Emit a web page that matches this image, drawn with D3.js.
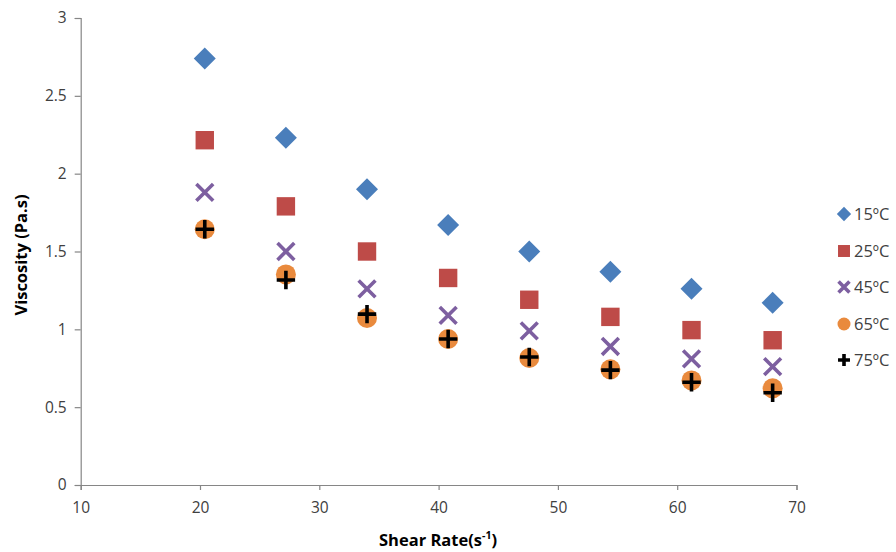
<!DOCTYPE html>
<html>
<head>
<meta charset="utf-8">
<script src="https://cdn.jsdelivr.net/npm/d3@7"></script>
<style>
  html, body { margin: 0; padding: 0; background: #fff; }
  svg { display: block; font-family: "Open Sans", "Noto Sans", sans-serif; }
</style>
</head>
<body>
<svg id="chart" width="896" height="552"></svg>
<script>
const shearRate = [20.4, 27.2, 34, 40.8, 47.6, 54.4, 61.2, 68];
const seriesNames = ["15ºC", "25ºC", "45ºC", "65ºC", "75ºC"];
const v15 = [2.74, 2.23, 1.90, 1.67, 1.50, 1.37, 1.26, 1.17];
const v25 = [2.215, 1.79, 1.50, 1.33, 1.19, 1.08, 0.995, 0.93];
const v45 = [1.88, 1.50, 1.26, 1.09, 0.99, 0.89, 0.81, 0.76];
const v65 = [1.643, 1.353, 1.073, 0.938, 0.816, 0.743, 0.672, 0.621];
const v75 = [1.643, 1.317, 1.098, 0.938, 0.822, 0.738, 0.660, 0.593];
const xTicks = [10, 20, 30, 40, 50, 60, 70];
const yTicks = [0, 0.5, 1, 1.5, 2, 2.5, 3];
const colors = ["#4A7EBB", "#BE4B48", "#7D5FA0", "#E98A3D", "#000000"];

const allSeries = [v15, v25, v45, v65, v75];

const svg = d3.select("#chart");
const x = d3.scaleLinear().domain([10, 70]).range([80.7, 796.5]);
const y = d3.scaleLinear().domain([0, 3]).range([485, 18]);
const axisColor = "#868686";

// Y axis
const yAxis = svg.append("g").attr("transform", `translate(${x(10)},0)`)
  .call(d3.axisLeft(y).tickValues(yTicks).tickSize(6).tickPadding(8).tickFormat(d3.format("")));
// X axis
const xAxis = svg.append("g").attr("transform", `translate(0,${y(0)})`)
  .call(d3.axisBottom(x).tickValues(xTicks).tickSize(5).tickPadding(8).tickFormat(d3.format("")));
[yAxis, xAxis].forEach(g => {
  g.select(".domain").attr("stroke", axisColor).attr("stroke-width", 1.2);
  g.selectAll(".tick line").attr("stroke", axisColor).attr("stroke-width", 1.2);
  g.selectAll(".tick text").attr("fill", "#404040").attr("font-size", 15.5)
    .attr("font-family", "'Open Sans', sans-serif");
});
xAxis.selectAll(".tick text").attr("dy", "0.95em");

// Axis titles
svg.append("text")
  .attr("transform", `translate(27,255) rotate(-90)`)
  .attr("text-anchor", "middle")
  .attr("font-size", 16.5).attr("font-weight", "bold").attr("fill", "#000")
  .text("Viscosity (Pa.s)");

const xt = svg.append("text")
  .attr("x", 438).attr("y", 546)
  .attr("text-anchor", "middle")
  .attr("font-size", 16.5).attr("font-weight", "bold").attr("fill", "#000");
xt.append("tspan").text("Shear Rate(s");
xt.append("tspan").attr("dy", -7).attr("font-size", 10.5).text("-1");
xt.append("tspan").attr("dy", 7).text(")");

// Marker drawing
function drawMarker(g, type, color, size) {
  const s = size;
  if (type === 0) {
    g.append("path").attr("d", `M0,${-s*0.55}L${s*0.55},0L0,${s*0.55}L${-s*0.55},0Z`).attr("fill", color);
  } else if (type === 1) {
    g.append("rect").attr("x", -s*0.46).attr("y", -s*0.46).attr("width", s*0.92).attr("height", s*0.92).attr("fill", color);
  } else if (type === 2) {
    const a = s*0.42;
    g.append("path").attr("d", `M${-a},${-a}L${a},${a}M${-a},${a}L${a},${-a}`)
      .attr("stroke", color).attr("stroke-width", 3.6).attr("fill", "none");
  } else if (type === 3) {
    g.append("circle").attr("r", s*0.5).attr("fill", color);
  } else {
    const a = s*0.46;
    g.append("path").attr("d", `M${-a},0L${a},0M0,${-a}L0,${a}`)
      .attr("stroke", color).attr("stroke-width", 3.6).attr("fill", "none");
  }
}

allSeries.forEach((vals, si) => {
  const g = svg.append("g").attr("class", "series");
  g.selectAll("g.pt").data(vals).enter().append("g").attr("class", "pt")
    .attr("transform", (d, i) => `translate(${x(shearRate[i])},${y(d)})`)
    .each(function() { drawMarker(d3.select(this), si, colors[si], 20); });
});

// Legend
const legendY = [214, 251, 287, 324, 360];
seriesNames.forEach((name, i) => {
  const g = svg.append("g").attr("transform", `translate(844,${legendY[i]})`);
  drawMarker(g, i, colors[i], 13);
  g.append("text").attr("x", 10).attr("y", 0).attr("dy", "0.36em")
    .attr("font-size", 16.5).attr("fill", "#404040").text(name);
});
</script>
</body>
</html>
